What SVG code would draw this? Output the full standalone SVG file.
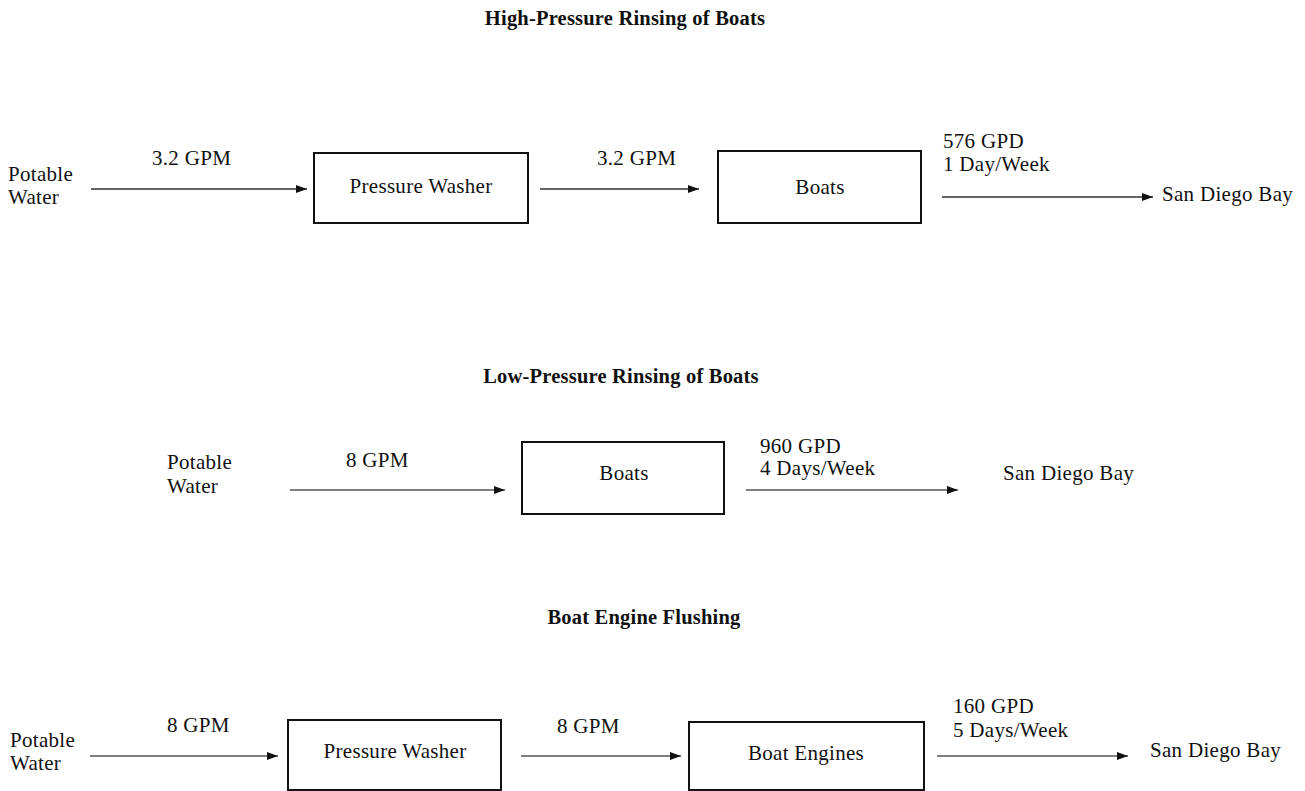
<svg xmlns="http://www.w3.org/2000/svg" width="1305" height="791" viewBox="0 0 1305 791">
<style>
text{font-family:'Liberation Serif', 'DejaVu Serif', serif;font-size:21px;letter-spacing:0.3px;fill:#111}
.t{font-weight:bold;text-anchor:middle;font-size:20.5px;letter-spacing:0.2px}
.c{text-anchor:middle}
.box{fill:#fff;stroke:#111;stroke-width:2}
.ln{stroke:#333;stroke-width:1.6;fill:none;marker-end:url(#ah)}
.lg{stroke:#555}
</style>
<defs>
<marker id="ah" markerUnits="userSpaceOnUse" markerWidth="12" markerHeight="10" refX="11" refY="5" orient="auto">
<path d="M0,1 L11,5 L0,9 Z" fill="#111"/>
</marker>
</defs>
<rect width="1305" height="791" fill="#fff"/>
<g id="titles">
<text class="t" x="625" y="25">High-Pressure Rinsing of Boats</text>
<text class="t" x="621" y="383">Low-Pressure Rinsing of Boats</text>
<text class="t" x="644" y="624">Boat Engine Flushing</text>
</g>
<g id="connectors">
<line class="ln" x1="91" y1="189" x2="307" y2="189"/>
<line class="ln" x1="540" y1="189" x2="699" y2="189"/>
<line class="ln" x1="942" y1="197" x2="1153" y2="197"/>
<line class="ln lg" x1="290" y1="490" x2="505" y2="490"/>
<line class="ln lg" x1="746" y1="490" x2="958" y2="490"/>
<line class="ln lg" x1="90" y1="756" x2="278" y2="756"/>
<line class="ln lg" x1="521" y1="756" x2="681" y2="756"/>
<line class="ln lg" x1="937" y1="756" x2="1128" y2="756"/>
</g>
<g id="labels">
<text x="152" y="165">3.2 GPM</text>
<text x="597" y="165">3.2 GPM</text>
<text x="943" y="148">576 GPD</text>
<text x="943" y="171">1 Day/Week</text>
<text x="346" y="467">8 GPM</text>
<text x="760" y="453">960 GPD</text>
<text x="760" y="475">4 Days/Week</text>
<text x="167" y="732">8 GPM</text>
<text x="557" y="733">8 GPM</text>
<text x="953" y="713">160 GPD</text>
<text x="953" y="737">5 Days/Week</text>
</g>
<g id="src1"><text x="8" y="181">Potable</text><text x="8" y="204">Water</text></g>
<g id="pw1"><rect class="box" x="314" y="153" width="214" height="70"/><text class="c" x="421" y="193">Pressure Washer</text></g>
<g id="boats1"><rect class="box" x="718" y="151" width="203" height="72"/><text class="c" x="820" y="194">Boats</text></g>
<g id="bay1"><text x="1162" y="201">San Diego Bay</text></g>
<g id="src2"><text x="167" y="469">Potable</text><text x="167" y="493">Water</text></g>
<g id="boats2"><rect class="box" x="522" y="442" width="202" height="72"/><text class="c" x="624" y="480">Boats</text></g>
<g id="bay2"><text x="1003" y="480">San Diego Bay</text></g>
<g id="src3"><text x="10" y="747">Potable</text><text x="10" y="770">Water</text></g>
<g id="pw2"><rect class="box" x="288" y="720" width="213" height="70"/><text class="c" x="395" y="758">Pressure Washer</text></g>
<g id="engines"><rect class="box" x="689" y="722" width="235" height="68"/><text class="c" x="806" y="760">Boat Engines</text></g>
<g id="bay3"><text x="1150" y="757">San Diego Bay</text></g>
</svg>
